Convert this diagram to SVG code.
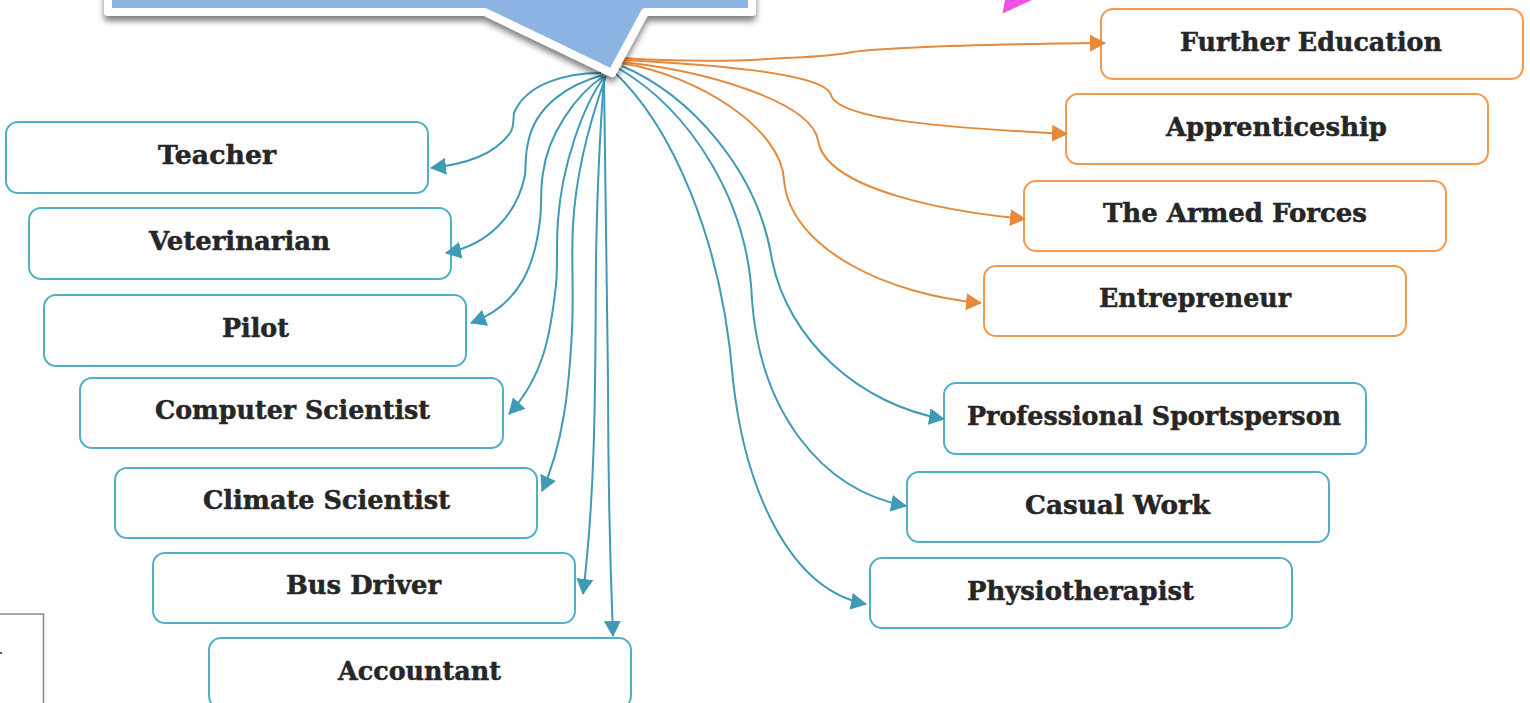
<svg xmlns="http://www.w3.org/2000/svg" width="1530" height="703" viewBox="0 0 1530 703">
<style>
.b{fill:#fff;stroke-width:2;}
.t .b{stroke:#4fb0c8;}
.o .b{stroke:#f59a4c;}
.l{font-family:"DejaVu Serif","Liberation Serif",serif;font-weight:bold;font-size:26px;fill:#262626;stroke:#262626;stroke-width:.5px;text-anchor:middle;}
.c{fill:none;stroke-width:2;}
.ct{stroke:#3f9ab5;marker-end:url(#at);}
.co{stroke:#e58a3c;marker-end:url(#ao);}
</style>
<defs>
<marker id="at" markerUnits="userSpaceOnUse" markerWidth="18" markerHeight="18" refX="15" refY="8.500" orient="auto"><path d="M0,0L16,8.500L0,17Z" fill="#3f9ab5"/></marker>
<marker id="ao" markerUnits="userSpaceOnUse" markerWidth="18" markerHeight="18" refX="15" refY="8.500" orient="auto"><path d="M0,0L16,8.500L0,17Z" fill="#e58a3c"/></marker>
<filter id="sh" x="-5%" y="-20%" width="110%" height="160%"><feDropShadow dx="0" dy="5" stdDeviation="3" flood-color="#000" flood-opacity=".5"/></filter>
</defs>
<rect width="1530" height="703" fill="#fff"/>
<path id="corner" d="M0,614H43.500V703" fill="none" stroke="#8a8a8a" stroke-width="1.500"/>
<rect id="dot" x="0" y="652" width="2" height="2" fill="#555"/>
<polygon id="pink" points="1002.500,13.500 1005,0 1032,0" fill="#f04fe3"/>
<g id="teacher" class="t"><rect class="b" x="6" y="122" width="422" height="71" rx="12"/><text class="l" x="217" y="164" textLength="118" lengthAdjust="spacingAndGlyphs">Teacher</text></g>
<g id="veterinarian" class="t"><rect class="b" x="29" y="208" width="422" height="71" rx="12"/><text class="l" x="239.500" y="250" textLength="181" lengthAdjust="spacingAndGlyphs">Veterinarian</text></g>
<g id="pilot" class="t"><rect class="b" x="44" y="295" width="422" height="71" rx="12"/><text class="l" x="255.500" y="337" textLength="67" lengthAdjust="spacingAndGlyphs">Pilot</text></g>
<g id="computer-scientist" class="t"><rect class="b" x="80" y="378" width="423" height="70" rx="12"/><text class="l" x="292.500" y="419" textLength="275" lengthAdjust="spacingAndGlyphs">Computer Scientist</text></g>
<g id="climate-scientist" class="t"><rect class="b" x="115" y="468" width="422" height="70" rx="12"/><text class="l" x="326.500" y="509" textLength="247" lengthAdjust="spacingAndGlyphs">Climate Scientist</text></g>
<g id="bus-driver" class="t"><rect class="b" x="153" y="553" width="422" height="70" rx="12"/><text class="l" x="363.500" y="594" textLength="155" lengthAdjust="spacingAndGlyphs">Bus Driver</text></g>
<g id="accountant" class="t"><rect class="b" x="209" y="638" width="422" height="70" rx="12"/><text class="l" x="419.500" y="680" textLength="163" lengthAdjust="spacingAndGlyphs">Accountant</text></g>
<g id="further-education" class="o"><rect class="b" x="1101" y="9" width="422" height="70" rx="12"/><text class="l" x="1311" y="51" textLength="262" lengthAdjust="spacingAndGlyphs">Further Education</text></g>
<g id="apprenticeship" class="o"><rect class="b" x="1066" y="94" width="422" height="70" rx="12"/><text class="l" x="1276.500" y="136" textLength="221" lengthAdjust="spacingAndGlyphs">Apprenticeship</text></g>
<g id="armed-forces" class="o"><rect class="b" x="1024" y="181" width="422" height="70" rx="12"/><text class="l" x="1235" y="222" textLength="264" lengthAdjust="spacingAndGlyphs">The Armed Forces</text></g>
<g id="entrepreneur" class="o"><rect class="b" x="984" y="266" width="422" height="70" rx="12"/><text class="l" x="1195" y="307" textLength="192" lengthAdjust="spacingAndGlyphs">Entrepreneur</text></g>
<g id="sportsperson" class="t"><rect class="b" x="944" y="383" width="422" height="71" rx="12"/><text class="l" x="1154" y="425" textLength="374" lengthAdjust="spacingAndGlyphs">Professional Sportsperson</text></g>
<g id="casual-work" class="t"><rect class="b" x="907" y="472" width="422" height="70" rx="12"/><text class="l" x="1117.500" y="514" textLength="185" lengthAdjust="spacingAndGlyphs">Casual Work</text></g>
<g id="physiotherapist" class="t"><rect class="b" x="870" y="558" width="422" height="70" rx="12"/><text class="l" x="1080.500" y="600" textLength="227" lengthAdjust="spacingAndGlyphs">Physiotherapist</text></g>
<g id="connectors">
<path class="c ct" d="M601,73C565,73 526,84 514,113C513,122 514,128 510,133C494,155 466,164 431,168"/>
<path class="c ct" d="M603,75C570,84 535,105 528,143C525,155 526,165 525,175C517,215 488,245 446,253"/>
<path class="c ct" d="M604,76C575,95 548,135 543,173C540,190 542,205 540,220C535,265 520,305 471,323"/>
<path class="c ct" d="M605,76C583,105 562,165 558,220C556,245 558,265 556,285C551,330 545,375 509,414"/>
<path class="c ct" d="M606,76C592,115 576,170 573,225C571,260 574,290 572,330C569,390 563,445 542,491"/>
<path class="c ct" d="M604,78C600,130 597,200 596,260C595,360 597,480 583,594"/>
<path class="c ct" d="M604,78C606,180 607,280 608,380C608,470 610,560 613,636"/>
<path class="c ct" d="M612,70C672,125 722,240 733,380C745,490 790,590 866,604"/>
<path class="c ct" d="M618,68C690,110 748,200 752,300C760,410 820,490 906,506"/>
<path class="c ct" d="M622,66C690,95 758,170 772,260C788,340 860,405 944,419"/>
<path class="c co" d="M622,58C680,62 740,61 767,59C800,57 830,57 852,52C900,46 1000,44 1105,43"/>
<path class="c co" d="M622,60C700,64 825,72 831,95C838,120 950,128 1067,134"/>
<path class="c co" d="M622,62C700,70 810,100 818,140C825,190 950,212 1025,219"/>
<path class="c co" d="M620,63C700,75 782,130 784,180C790,250 890,295 981,303"/>
</g>
<path id="callout" d="M108,-30H752V12H645L612,73L485,12H108Z" fill="#8db3e2" stroke="#fff" stroke-width="8" stroke-linejoin="round" filter="url(#sh)"/>
</svg>
